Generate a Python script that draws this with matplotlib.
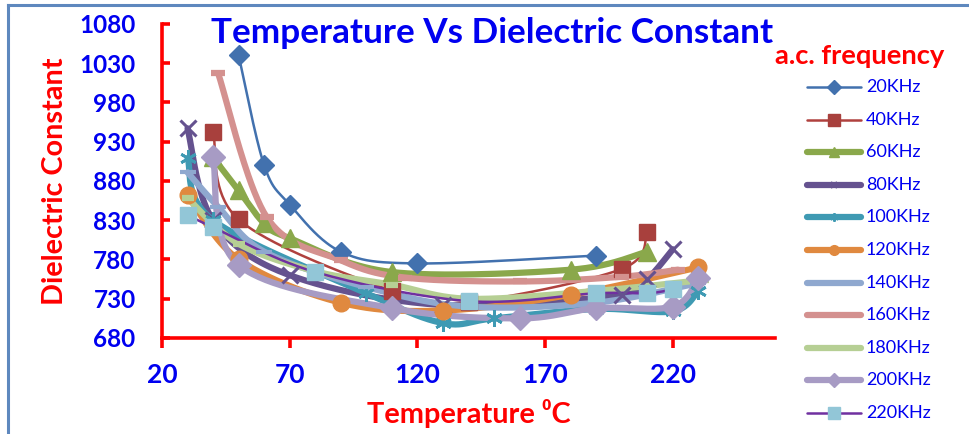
import numpy as np
import matplotlib
matplotlib.use("Agg")
import matplotlib.pyplot as plt
from matplotlib.lines import Line2D

# temperature (deg C) and dielectric constant for each a.c. frequency
t_20 = [50, 60, 70, 90, 120, 190]
e_20 = [1040, 900, 850, 790, 775, 785]
t_40 = [40, 50, 110, 140, 200, 210]
e_40 = [942, 831, 740, 726, 768, 815]
t_60 = [40, 50, 60, 70, 110, 180, 210]
e_60 = [910, 868, 826, 807, 764, 767, 790]
t_80 = [30, 40, 70, 130, 200, 210, 220]
e_80 = [947, 830, 760, 722, 735, 755, 793]
t_100 = [30, 40, 100, 130, 150, 190, 220, 230]
e_100 = [909, 830, 737, 699, 705, 717, 714, 740]
t_120 = [30, 50, 90, 130, 180, 230]
e_120 = [862, 780, 725, 715, 735, 770]
t_140 = [30, 42, 60, 100, 140, 190, 230]
e_140 = [891, 847, 790, 745, 720, 725, 750]
t_160 = [42, 61, 90, 115, 160, 200, 222]
e_160 = [1017, 834, 779, 757, 752, 758, 767]
t_180 = [30, 50, 80, 110, 140, 190, 232]
e_180 = [858, 800, 765, 748, 730, 740, 754]
t_200 = [40, 50, 110, 160, 190, 220, 230]
e_200 = [910, 773, 718, 705, 718, 720, 756]
t_220 = [30, 40, 80, 140, 190, 210, 220]
e_220 = [837, 821, 764, 727, 737, 737, 742]

labels = ["20KHz", "40KHz", "60KHz", "80KHz", "100KHz", "120KHz",
          "140KHz", "160KHz", "180KHz", "200KHz", "220KHz"]
temps = [t_20, t_40, t_60, t_80, t_100, t_120, t_140, t_160, t_180, t_200, t_220]
eps = [e_20, e_40, e_60, e_80, e_100, e_120, e_140, e_160, e_180, e_200, e_220]

# (line colour, line width, marker, marker size, marker face, marker edge)
styles = [
    ("#4271AE", 1.8, "D", 10, "#4271AE", 1.0),
    ("#B0413E", 1.8, "s", 11, "#A8403D", 1.0),
    ("#8AA84B", 4.5, "^", 13, "#8AA84B", 1.0),
    ("#65528F", 4.5, "x", 11, "#65528F", 2.2),
    ("#3F9AB3", 4.5, (6, 2, 0), 12, "#3F9AB3", 2.0),
    ("#E0893F", 4.5, "o", 12, "#E0893F", 1.0),
    ("#8FA8CF", 4.5, "_", 12, "#8FA8CF", 3.0),
    ("#D4918F", 4.5, "_", 10, "#D4918F", 4.5),
    ("#B6CF94", 4.5, "_", 8, "#B6CF94", 4.5),
    ("#A79BC4", 4.5, "D", 12, "#A79BC4", 1.0),
    ("#7030A0", 1.8, "s", 12, "#92C6D7", 1.0),
]
LEG_MS = [7, 8, 7, 5, 6, 7, 5, 1, 1, 7, 9]


def smooth(x, y, sx=2.555, sy=0.785, n=40):
    # Bezier smoothing through every point, tangents from the neighbours
    p = np.column_stack([np.asarray(x, float) * sx, np.asarray(y, float) * sy])
    ext = np.vstack([p[0], p, p[-1]])
    t = np.linspace(0, 1, n)[1:, None]
    out = [p[:1]]
    for i in range(len(p) - 1):
        p0, p1, p2, p3 = ext[i], ext[i + 1], ext[i + 2], ext[i + 3]
        c1 = p1 + (p2 - p0) / 6.0
        c2 = p2 - (p3 - p1) / 6.0
        out.append((1 - t) ** 3 * p1 + 3 * (1 - t) ** 2 * t * c1
                   + 3 * (1 - t) * t ** 2 * c2 + t ** 3 * p2)
    q = np.vstack(out)
    return q[:, 0] / sx, q[:, 1] / sy


FONT = ["Lato", "DejaVu Sans"]
plt.rcParams["font.family"] = FONT
BLUE = "#0000F0"
RED = "#FF0000"

W, H = 969, 434
fig = plt.figure(figsize=(W / 100, H / 100), dpi=100)
ax = fig.add_axes([162 / W, 1 - 338 / H, (775 - 162) / W, (338 - 24) / H])

for x, y, (c, lw, mk, ms, mf, mew) in zip(temps, eps, styles):
    xs, ys = smooth(x, y)
    ax.plot(xs, ys, color=c, lw=lw, solid_capstyle="round", zorder=2)
    ax.plot(x, y, ls="none", marker=mk, ms=ms, mfc=mf, mec=mf,
            mew=mew, zorder=3)

ax.set_xlim(20, 260)
ax.set_ylim(680, 1080)
ax.set_xticks(np.arange(20, 221, 50))
ax.set_yticks(np.arange(680, 1081, 50))
for s in ["top", "right"]:
    ax.spines[s].set_visible(False)
for s in ["left", "bottom"]:
    ax.spines[s].set_color(RED)
    ax.spines[s].set_linewidth(2.6)
ax.tick_params(axis="x", direction="out", length=7, width=2.6, color=RED,
               labelsize=19, labelcolor=BLUE, pad=11)
ax.tick_params(axis="y", direction="in", length=6, width=2.6, color=RED,
               labelsize=17.5, labelcolor=BLUE, pad=19)
for lab in ax.get_xticklabels() + ax.get_yticklabels():
    lab.set_fontweight("bold")

fig.text(492 / W, 1 - 33 / H, "Temperature Vs Dielectric Constant",
         color=BLUE, fontsize=25.3, fontweight="bold", ha="center", va="center")
fig.text(55 / W, 1 - 181 / H, "Dielectric Constant", color=RED, fontsize=20.7,
         fontweight="bold", rotation=90, ha="center", va="center")
fig.text(469 / W, 1 - 413 / H, "Temperature \u2070C", color=RED, fontsize=20.8,
         fontweight="bold", ha="center", va="center", family=FONT)

# legend
fig.text(860 / W, 1 - 56 / H, "a.c. frequency", color=RED, fontsize=19.7,
         fontweight="bold", ha="center", va="center")
for i, (lab, (c, lw, mk, ms, mf, mew)) in enumerate(zip(labels, styles)):
    yy = 1 - (87 + 32.6 * i) / H
    fig.add_artist(Line2D([807 / W, 861 / W], [yy, yy], color=c, lw=lw,
                          solid_capstyle="round", transform=fig.transFigure))
    fig.add_artist(Line2D([834 / W], [yy], ls="none", marker=mk,
                          ms=LEG_MS[i], mfc=mf, mec=mf, mew=min(mew, 1.5),
                          transform=fig.transFigure))
    fig.text(866 / W, yy, lab, color=BLUE, fontsize=13, ha="left",
             va="center")

# chart frame, top and left edges
fig.add_artist(Line2D([8 / W, 1], [1 - 5 / H, 1 - 5 / H], color="#5E88BE",
                      lw=2.2, transform=fig.transFigure))
fig.add_artist(Line2D([8 / W, 8 / W], [0, 1 - 5 / H], color="#5E88BE",
                      lw=2.2, transform=fig.transFigure))

fig.savefig("out.png", dpi=100)
